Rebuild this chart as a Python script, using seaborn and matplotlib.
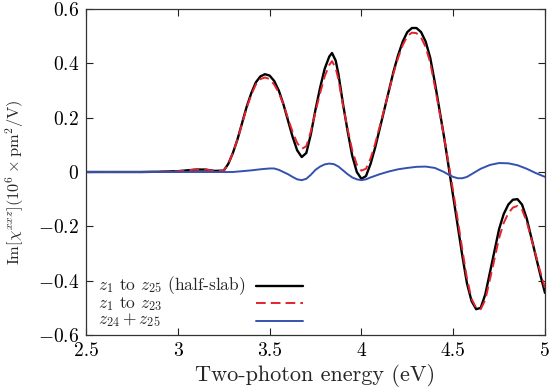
import matplotlib
matplotlib.use("Agg")
import matplotlib.pyplot as plt
import seaborn as sns
import numpy as np

energy = [2.50, 2.60, 2.70, 2.80, 2.90, 3.00, 3.05, 3.10, 3.15, 3.20, 3.25, 3.275, 3.30, 3.325, 3.35,
          3.375, 3.40, 3.425, 3.45, 3.475, 3.50, 3.525, 3.55, 3.575, 3.60, 3.625, 3.65, 3.675, 3.70,
          3.725, 3.75, 3.775, 3.80, 3.825, 3.84, 3.86, 3.875, 3.90, 3.925, 3.95, 3.975, 4.00, 4.025,
          4.05, 4.075, 4.10, 4.125, 4.15, 4.175, 4.20, 4.225, 4.25, 4.275, 4.30, 4.325, 4.35, 4.375,
          4.40, 4.425, 4.45, 4.475, 4.50, 4.525, 4.55, 4.575, 4.60, 4.625, 4.65, 4.675, 4.70, 4.725,
          4.75, 4.775, 4.80, 4.825, 4.85, 4.875, 4.90, 4.925, 4.95, 4.975, 5.00]

half_slab = [0, 0, 0, 0, 0.001, 0.003, 0.006, 0.009, 0.009, 0.004, 0.005, 0.03, 0.07, 0.12, 0.18,
             0.24, 0.29, 0.33, 0.352, 0.36, 0.355, 0.335, 0.30, 0.25, 0.19, 0.13, 0.08, 0.055, 0.07,
             0.14, 0.23, 0.31, 0.38, 0.425, 0.438, 0.41, 0.36, 0.25, 0.15, 0.06, 0.0, -0.025, -0.015,
             0.03, 0.09, 0.16, 0.23, 0.30, 0.37, 0.43, 0.48, 0.515, 0.53, 0.53, 0.515, 0.48, 0.42,
             0.33, 0.23, 0.13, 0.02, -0.09, -0.2, -0.31, -0.41, -0.475, -0.505, -0.5, -0.45, -0.37, -0.29,
             -0.21, -0.155, -0.12, -0.102, -0.10, -0.12, -0.17, -0.24, -0.31, -0.38, -0.445]

z1_to_z23 = [0, 0, 0, 0, 0.001, 0.003, 0.006, 0.009, 0.009, 0.004, 0.005, 0.03, 0.07, 0.12, 0.177,
             0.236, 0.284, 0.322, 0.342, 0.348, 0.342, 0.322, 0.292, 0.25, 0.198, 0.148, 0.107, 0.085, 0.095,
             0.15, 0.222, 0.29, 0.352, 0.394, 0.408, 0.382, 0.34, 0.244, 0.158, 0.08, 0.027, 0.005, 0.012,
             0.05, 0.104, 0.168, 0.233, 0.298, 0.364, 0.42, 0.467, 0.50, 0.513, 0.511, 0.495, 0.46, 0.402,
             0.315, 0.222, 0.13, 0.03, -0.072, -0.177, -0.287, -0.392, -0.467, -0.50, -0.505, -0.47, -0.396, -0.32,
             -0.243, -0.188, -0.152, -0.131, -0.125, -0.139, -0.182, -0.244, -0.306, -0.369, -0.427]

energy_surf = [2.50, 2.80, 3.10, 3.30, 3.35, 3.40, 3.45, 3.50, 3.525, 3.55, 3.60, 3.625, 3.65, 3.675,
               3.70, 3.725, 3.75, 3.775, 3.80, 3.825, 3.85, 3.875, 3.90, 3.925, 3.95, 3.975, 4.00,
               4.025, 4.05, 4.10, 4.15, 4.20, 4.25, 4.30, 4.35, 4.40, 4.45, 4.475, 4.50, 4.525, 4.55,
               4.575, 4.60, 4.65, 4.70, 4.75, 4.80, 4.85, 4.90, 4.95, 5.00]
z24_plus_z25 = [0, 0, 0, 0, 0.003, 0.006, 0.01, 0.013, 0.013, 0.008, -0.008, -0.018, -0.027, -0.03,
                -0.025, -0.01, 0.008, 0.02, 0.028, 0.031, 0.029, 0.02, 0.006, -0.008, -0.02, -0.027, -0.03,
                -0.027, -0.02, -0.008, 0.002, 0.01, 0.015, 0.019, 0.02, 0.015, 0.0, -0.01, -0.018, -0.023, -0.023,
                -0.018, -0.008, 0.012, 0.026, 0.033, 0.032, 0.025, 0.012, -0.004, -0.018]

labels = [r"$z_1$ to $z_{25}$ (half-slab)", r"$z_1$ to $z_{23}$", r"$z_{24}+z_{25}$"]
x_ticks = [2.5, 3.0, 3.5, 4.0, 4.5, 5.0]
x_ticklabels = ["2.5", "3", "3.5", "4", "4.5", "5"]
y_ticks = [-0.6, -0.4, -0.2, 0.0, 0.2, 0.4, 0.6]
y_ticklabels = ["$-0.6$", "$-0.4$", "$-0.2$", "$0$", "$0.2$", "$0.4$", "$0.6$"]

sns.set_style("ticks")
plt.rcParams["font.family"] = ["cmr10", "DejaVu Serif"]
plt.rcParams["mathtext.fontset"] = "cm"
plt.rcParams["axes.formatter.use_mathtext"] = True

W, H = 551, 391
fig = plt.figure(figsize=(W / 100, H / 100), dpi=100)
ax = fig.add_axes([86 / W, 1 - 335 / H, (545 - 86) / W, (335 - 9) / H])

DASH = (5, 2.6)
sns.lineplot(x=energy, y=half_slab, ax=ax, color="black", lw=1.7, sort=False)
sns.lineplot(x=energy, y=z1_to_z23, ax=ax, color="#e3222b", lw=1.4, sort=False)
ax.lines[-1].set_dashes(DASH)
sns.lineplot(x=energy_surf, y=z24_plus_z25, ax=ax, color="#3551b0", lw=1.4, sort=False)
series_lines = list(ax.lines[:3])

ax.set_xlim(2.5, 5.0)
ax.set_ylim(-0.6, 0.6)
ax.set_xticks(x_ticks)
ax.set_xticklabels(x_ticklabels)
ax.set_yticks(y_ticks)
ax.set_yticklabels(y_ticklabels)
ax.tick_params(direction="in", top=True, right=True, length=5, width=0.8, labelsize=14,
               colors="#222222", labelcolor="black", pad=5)
for sp in ax.spines.values():
    sp.set_linewidth(0.9)
    sp.set_color("#333333")

ax.set_xlabel("Two-photon energy (eV)", fontsize=16, labelpad=3)
ax.set_ylabel(r"$\mathrm{Im}[\chi^{xxz}](10^6\times\mathrm{pm}^2/\mathrm{V})$", fontsize=11.8)
ax.yaxis.set_label_coords((26 - 86) / 459, (335 - 182) / 326)

# legend: handles only (on the right), texts left-aligned in one block
FS = 12.5
PX_PER_FS = FS * 100 / 72
handle_len_px = 303 - 256
rows_px = [286, 303.5, 321]
x_anchor = (256 - 86) / 459


def make_legend(ls, y_anchor):
    lg = ax.legend(series_lines, ["", "", ""], loc="lower left", frameon=False, markerfirst=False,
                   fontsize=FS, handlelength=handle_len_px / PX_PER_FS, handletextpad=0,
                   labelspacing=ls, borderpad=0, borderaxespad=0,
                   bbox_to_anchor=(x_anchor, y_anchor))
    lg.get_lines()[1].set_dashes(DASH)
    return lg


def centers(lg):
    fig.canvas.draw()
    r = fig.canvas.get_renderer()
    out = []
    for ln in lg.get_lines():
        bb = ln.get_window_extent(r)
        out.append((H - (bb.y0 + bb.y1) / 2))
    return out


ls = 0.35
leg = make_legend(ls, 0.0)
c = centers(leg)
ls = ls + ((rows_px[1] - rows_px[0]) - (c[1] - c[0])) / PX_PER_FS
leg.remove()
leg = make_legend(ls, 0.0)
c = centers(leg)
y_anchor = (c[2] - rows_px[2]) / 326
leg.remove()
leg = make_legend(ls, y_anchor)
c = centers(leg)

# measure single-line metrics to lay out the multi-line label block
r = fig.canvas.get_renderer()
def metrics(s):
    t = fig.text(0.5, 0.5, s, fontsize=FS, va="baseline")
    bb = t.get_window_extent(r)
    base = 0.5 * H
    asc, dsc = bb.y1 - base, base - bb.y0
    t.remove()
    return asc, dsc

lp_a, lp_d = metrics("lp")
a1, d1 = metrics(labels[0])
a2, d2 = metrics(labels[1])
gap_target = rows_px[1] - rows_px[0]
lsp = (gap_target - max(d1, lp_d)) / max(a2, lp_a)
base1 = c[0] + 4.5
top_px = base1 - max(a1, lp_a)
ax.text((98 - 86) / 459, (335 - top_px) / 326, "\n".join(labels), transform=ax.transAxes,
        fontsize=FS, ha="left", va="top", linespacing=lsp)

fig.savefig("out.png", dpi=100)
